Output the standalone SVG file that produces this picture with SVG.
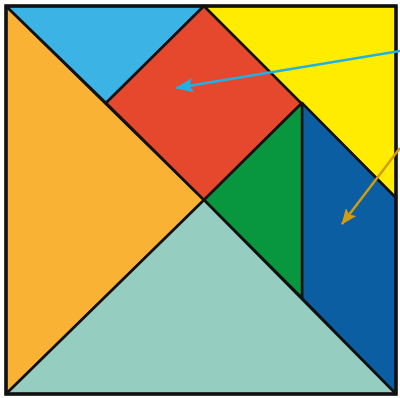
<svg xmlns="http://www.w3.org/2000/svg" width="400" height="398" viewBox="0 0 400 398">
<style>
.p{stroke:#111;stroke-width:2.5;stroke-linejoin:round}
</style>
<defs>
<marker id="ab" viewBox="0 0 18 14" refX="17" refY="7" markerWidth="18" markerHeight="14" markerUnits="userSpaceOnUse" orient="auto"><path d="M0,0L18,7L0,14L3,7z" fill="#1fb0e6"/></marker>
<marker id="ag" viewBox="0 0 16 13" refX="15" refY="6.5" markerWidth="16" markerHeight="13" markerUnits="userSpaceOnUse" orient="auto"><path d="M0,0L16,6.5L0,13L3,6.5z" fill="#d19b12"/></marker>
</defs>
<rect width="400" height="398" fill="#fff"/>
<g id="orange"><polygon class="p" points="6,6 204,200 6,394" fill="#f9b233"/></g>
<g id="lightblue"><polygon class="p" points="6,6 204,6 106,103" fill="#3bb4e5"/></g>
<g id="red"><polygon class="p" points="204,6 302,103 204,200 106,103" fill="#e6482d"/></g>
<g id="yellow"><polygon class="p" points="204,6 396,6 396,198" fill="#ffec00"/></g>
<g id="darkblue"><polygon class="p" points="302,103 396,198 396,394 302,298" fill="#0b5ea1"/></g>
<g id="green"><polygon class="p" points="302,103 302,298 204,200" fill="#08963e"/></g>
<g id="teal"><polygon class="p" points="6,394 204,200 396,394" fill="#95cdc1"/></g>
<rect x="6" y="6" width="390" height="388" fill="none" stroke="#111" stroke-width="3.5"/>
<g id="connectors">
<line x1="400" y1="51" x2="176" y2="88" stroke="#1fb0e6" stroke-width="2.5" marker-end="url(#ab)"/>
<line x1="400" y1="148" x2="342" y2="224" stroke="#d19b12" stroke-width="2.5" marker-end="url(#ag)"/>
</g>
</svg>
